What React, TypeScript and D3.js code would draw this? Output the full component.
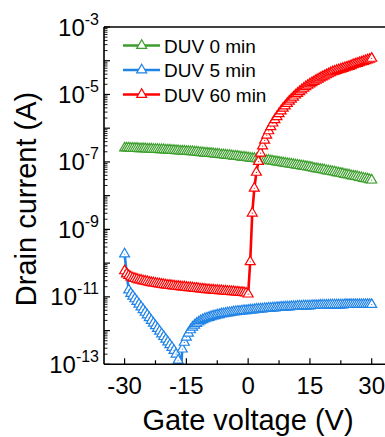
import * as d3 from 'd3';
import React from 'react';

// gate voltage sweep, -30 V to 30 V in 0.5 V steps
const gateVoltage = d3.range(-30, 30.001, 0.5);

// log10 of drain current (A)
const duv0LogI = [
  -6.59, -6.59, -6.59, -6.60, -6.60, -6.60, -6.60, -6.61, -6.61, -6.61, -6.61,
  -6.62, -6.62, -6.62, -6.63, -6.63, -6.63, -6.64, -6.64, -6.64, -6.65,
  -6.65, -6.65, -6.66, -6.66, -6.67, -6.67, -6.68, -6.68, -6.68, -6.69,
  -6.69, -6.70, -6.70, -6.71, -6.71, -6.72, -6.73, -6.73, -6.74, -6.74,
  -6.75, -6.75, -6.76, -6.77, -6.77, -6.78, -6.79, -6.79, -6.80, -6.81,
  -6.81, -6.82, -6.83, -6.83, -6.84, -6.85, -6.86, -6.86, -6.87, -6.88,
  -6.89, -6.90, -6.90, -6.91, -6.92, -6.93, -6.94, -6.95, -6.96, -6.96,
  -6.97, -6.98, -6.99, -7.00, -7.01, -7.02, -7.03, -7.04, -7.05, -7.06,
  -7.07, -7.08, -7.09, -7.10, -7.11, -7.12, -7.13, -7.14, -7.15, -7.16,
  -7.17, -7.19, -7.20, -7.21, -7.22, -7.23, -7.24, -7.26, -7.27, -7.28,
  -7.29, -7.30, -7.32, -7.33, -7.34, -7.35, -7.37, -7.38, -7.39, -7.41,
  -7.42, -7.43, -7.44, -7.46, -7.47, -7.49, -7.50, -7.51, -7.53, -7.54,
];

const duv5LogI = [
  -9.73, -10.30, -10.80, -10.90, -10.98, -11.06, -11.14, -11.22, -11.30, -11.38, -11.46,
  -11.54, -11.62, -11.70, -11.78, -11.86, -11.94, -12.02, -12.10, -12.18, -12.26,
  -12.34, -12.42, -12.50, -12.59, -12.70, -12.88, -13.60, -12.55, -12.35, -12.20,
  -12.08, -11.98, -11.90, -11.84, -11.79, -11.75, -11.71, -11.68, -11.65, -11.63,
  -11.61, -11.59, -11.57, -11.56, -11.54, -11.53, -11.51, -11.50, -11.49, -11.48,
  -11.47, -11.46, -11.45, -11.44, -11.43, -11.43, -11.42, -11.41, -11.41, -11.40,
  -11.39, -11.39, -11.38, -11.37, -11.37, -11.36, -11.36, -11.35, -11.35, -11.34,
  -11.34, -11.33, -11.33, -11.32, -11.32, -11.31, -11.31, -11.30, -11.30, -11.30,
  -11.29, -11.29, -11.29, -11.28, -11.28, -11.28, -11.27, -11.27, -11.27, -11.27,
  -11.26, -11.26, -11.26, -11.26, -11.25, -11.25, -11.25, -11.25, -11.25, -11.24,
  -11.24, -11.24, -11.24, -11.24, -11.24, -11.24, -11.23, -11.23, -11.23, -11.23,
  -11.23, -11.23, -11.23, -11.23, -11.23, -11.23, -11.23, -11.23, -11.23, -11.23,
];

const duv60LogI = [
  -10.23, -10.32, -10.37, -10.41, -10.44, -10.46, -10.48, -10.50, -10.51, -10.53, -10.54,
  -10.55, -10.57, -10.58, -10.59, -10.60, -10.61, -10.62, -10.63, -10.64, -10.65,
  -10.66, -10.66, -10.67, -10.68, -10.69, -10.69, -10.70, -10.71, -10.71, -10.72,
  -10.73, -10.73, -10.74, -10.75, -10.75, -10.76, -10.77, -10.77, -10.78, -10.79,
  -10.79, -10.80, -10.80, -10.81, -10.81, -10.82, -10.82, -10.83, -10.83, -10.84,
  -10.84, -10.85, -10.85, -10.86, -10.86, -10.87, -10.87, -10.88, -10.89, -10.92,
  -9.96, -8.52, -7.78, -7.31, -6.99, -6.74, -6.53, -6.36, -6.21, -6.08,
  -5.96, -5.85, -5.75, -5.66, -5.57, -5.49, -5.41, -5.34, -5.27, -5.20,
  -5.14, -5.08, -5.02, -4.97, -4.92, -4.87, -4.82, -4.77, -4.73, -4.69,
  -4.65, -4.62, -4.58, -4.55, -4.51, -4.48, -4.45, -4.42, -4.39, -4.36,
  -4.33, -4.31, -4.29, -4.27, -4.25, -4.23, -4.21, -4.19, -4.17, -4.15,
  -4.12, -4.10, -4.08, -4.06, -4.04, -4.02, -4.00, -3.98, -3.96, -3.93,
];

const seriesNames = ['DUV 0 min', 'DUV 5 min', 'DUV 60 min'];
const seriesColors = ['#3c9e2c', '#2083e6', '#ff0000'];
const seriesLogI = [duv0LogI, duv5LogI, duv60LogI];

const xTicks = [-30, -15, 0, 15, 30];
const xMinorTicks = [-22.5, -7.5, 7.5, 22.5];
const yLabelExponents = [-3, -5, -7, -9, -11, -13];

const FONT = 'Arial, "Liberation Sans", Helvetica, sans-serif';

export default function App() {
  const width = 385;
  const height = 437;
  const left = 104, top = 27, bottom = 364.3, right = 392.3;

  const x = d3.scaleLinear().domain([-35, 35]).range([left, right]);
  const y = d3.scaleLog().domain([1e-13, 1e-3]).range([bottom, top]);

  const line = d3.line<[number, number]>()
    .x((d) => x(d[0]))
    .y((d) => y(d[1]));

  const tri = d3.symbol().type(d3.symbolTriangle).size(43)();

  // log ticks: majors every decade, minors 2..9
  const yMajor = d3.range(-13, -2).map((e) => Math.pow(10, e));
  const yMinor: number[] = [];
  for (let e = -13; e < -3; e++) {
    for (let m = 2; m <= 9; m++) yMinor.push(m * Math.pow(10, e));
  }

  const legendY = [45.5, 70, 94.5];

  return (
    <svg width={width} height={height} style={{ position: 'absolute', left: 0, top: 0, background: '#fff' }}
      fontFamily={FONT}>
      <defs>
        <clipPath id="plot">
          <rect x={left} y={top} width={right - left} height={bottom - top} />
        </clipPath>
      </defs>

      <g clipPath="url(#plot)">
        {seriesLogI.map((logs, si) => {
          const pts: [number, number][] = gateVoltage.map((v, i) => [v, Math.pow(10, logs[i])]);
          const c = seriesColors[si];
          return (
            <g key={si}>
              <path d={line(pts) || ''} fill="none" stroke={c} strokeWidth={2.6} strokeLinejoin="round" />
              {pts.map((p, i) => (
                <g key={i} transform={`translate(${x(p[0])},${y(p[1])})`}>
                  <path d={tri || ''} fill="#fff" stroke={c} strokeWidth={1.2} />
                  <circle r={0.6} fill={c} />
                </g>
              ))}
            </g>
          );
        })}
      </g>

      {/* axes frame */}
      <line x1={left} x2={left} y1={top} y2={bottom} stroke="#000" strokeWidth={1.6} />
      <line x1={left} x2={right} y1={bottom} y2={bottom} stroke="#000" strokeWidth={1.6} />
      <line x1={left} x2={right} y1={top} y2={top} stroke="#000" strokeWidth={1.6} />

      {/* y ticks */}
      {yMajor.map((v) => (
        <line key={'ym' + v} x1={left} x2={left + 6} y1={y(v)} y2={y(v)} stroke="#000" strokeWidth={1.2} />
      ))}
      {yMinor.map((v) => (
        <line key={'yn' + v} x1={left} x2={left + 3.5} y1={y(v)} y2={y(v)} stroke="#000" strokeWidth={0.9} />
      ))}
      {yLabelExponents.map((e) => (
        <text key={'yl' + e} x={99} y={y(Math.pow(10, e)) + 8.5} textAnchor="end" fontSize={24} fill="#000">
          10<tspan dy={-11} fontSize={16}>{e}</tspan>
        </text>
      ))}

      {/* x ticks */}
      {xTicks.map((v) => (
        <line key={'xm' + v} x1={x(v)} x2={x(v)} y1={bottom} y2={bottom - 6} stroke="#000" strokeWidth={1.2} />
      ))}
      {xMinorTicks.map((v) => (
        <line key={'xn' + v} x1={x(v)} x2={x(v)} y1={bottom} y2={bottom - 4} stroke="#000" strokeWidth={1.2} />
      ))}
      {xTicks.map((v) => (
        <text key={'xl' + v} x={x(v)} y={394} textAnchor="middle" fontSize={24} fill="#000">
          {v < 0 ? '-' + Math.abs(v) : String(v)}
        </text>
      ))}

      {/* axis titles */}
      <text x={248} y={430} textAnchor="middle" fontSize={29} fill="#000">Gate voltage (V)</text>
      <text transform="translate(36,199) rotate(-90)" textAnchor="middle" fontSize={29} fill="#000">
        Drain current (A)
      </text>

      {/* legend */}
      {seriesNames.map((name, i) => (
        <g key={name}>
          <line x1={123} x2={160} y1={legendY[i]} y2={legendY[i]} stroke={seriesColors[i]} strokeWidth={2.6} />
          <g transform={`translate(141.7,${legendY[i]})`}>
            <path d={tri || ''} fill="#fff" stroke={seriesColors[i]} strokeWidth={1.2} />
          </g>
          <text x={164} y={legendY[i] + 7} fontSize={19} fill="#000">{name}</text>
        </g>
      ))}
    </svg>
  );
}
